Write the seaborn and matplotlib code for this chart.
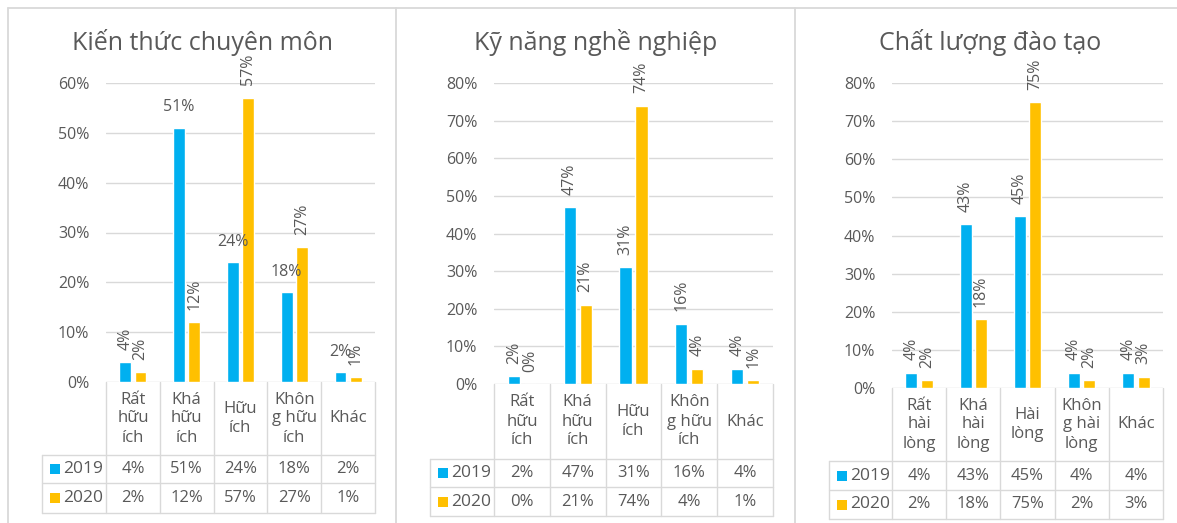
import numpy as np
import pandas as pd
import matplotlib
matplotlib.use("Agg")
import matplotlib.pyplot as plt
import seaborn as sns
from matplotlib.patches import Rectangle

# ---- data -------------------------------------------------------------
years = ["2019", "2020"]

titles = ["Kiến thức chuyên môn", "Kỹ năng nghề nghiệp", "Chất lượng đào tạo"]

cats_huu_ich = ["Rất\nhữu\ních", "Khá\nhữu\ních", "Hữu\ních", "Khôn\ng hữu\ních", "Khác"]
cats_hai_long = ["Rất\nhài\nlòng", "Khá\nhài\nlòng", "Hài\nlòng", "Khôn\ng hài\nlòng", "Khác"]

kien_thuc_2019 = [4, 51, 24, 18, 2]
kien_thuc_2020 = [2, 12, 57, 27, 1]
ky_nang_2019 = [2, 47, 31, 16, 4]
ky_nang_2020 = [0, 21, 74, 4, 1]
chat_luong_2019 = [4, 43, 45, 4, 4]
chat_luong_2020 = [2, 18, 75, 2, 3]

y_max = [60, 80, 80]

# ---- style ------------------------------------------------------------
sns.set_theme(style="white")
plt.rcParams["font.family"] = ["Open Sans", "DejaVu Sans"]

BLUE = "#00B0F0"
GOLD = "#FFC000"
TEXT = "#595959"
GRID = "#D9D9D9"
W, H = 1177, 523

fig = plt.figure(figsize=(W / 100, H / 100), dpi=100)

# overlay in pixel coordinates for frames, titles and the data tables
ov = fig.add_axes([0, 0, 1, 1], zorder=0)
ov.set_xlim(0, W)
ov.set_ylim(H, 0)
ov.axis("off")

# panel frames
ov.plot([8, W], [8, 8], color=GRID, lw=1.3)
for xb in (8, 396, 795):
    ov.plot([xb, xb], [8, H], color=GRID, lw=1.3)

panels = [
    dict(title=titles[0], cats=cats_huu_ich, v19=kien_thuc_2019, v20=kien_thuc_2020,
         ymax=y_max[0], plot=(106, 375, 83, 382), head=42, rows=(455, 483, 513), tx=202,
         rot19=[90, 0, 0, 0, 0], rot20=[90, 90, 90, 90, 90]),
    dict(title=titles[1], cats=cats_huu_ich, v19=ky_nang_2019, v20=ky_nang_2020,
         ymax=y_max[1], plot=(494, 773, 83, 384), head=430, rows=(459, 487, 516), tx=596,
         rot19=[90] * 5, rot20=[90] * 5),
    dict(title=titles[2], cats=cats_hai_long, v19=chat_luong_2019, v20=chat_luong_2020,
         ymax=y_max[2], plot=(892, 1163, 83, 388), head=829, rows=(461, 490, 519), tx=990,
         rot19=[90] * 5, rot20=[90] * 5),
]

for p in panels:
    left, right, top, bottom = p["plot"]
    ax = fig.add_axes([left / W, 1 - bottom / H, (right - left) / W, (bottom - top) / H], zorder=2)
    ax.patch.set_alpha(0)

    df = pd.DataFrame({
        "cat": p["cats"] * 2,
        "year": [years[0]] * 5 + [years[1]] * 5,
        "value": np.array(p["v19"] + p["v20"]) / 100.0,
    })
    sns.barplot(data=df, x="cat", y="value", hue="year", order=p["cats"],
                palette=[BLUE, GOLD], saturation=1, width=0.57, gap=0.23,
                errorbar=None, legend=False, ax=ax, zorder=3)

    ax.set_ylim(0, p["ymax"] / 100)
    ax.set_xlim(-0.5, 4.5)
    ticks = np.arange(0, p["ymax"] + 1, 10) / 100
    ax.set_yticks(ticks)
    ax.set_yticklabels([f"{int(round(t * 100))}%" for t in ticks], color=TEXT, fontsize=11.5)
    ax.tick_params(axis="y", length=0, pad=12)
    ax.set_xticks([])
    ax.set_xlabel("")
    ax.set_ylabel("")
    for s in ax.spines.values():
        s.set_visible(False)
    ax.grid(axis="y", color=GRID, lw=1.0, zorder=0)
    ax.set_axisbelow(True)

    # value labels above the bars
    for cont, vals, rots in zip(ax.containers, (p["v19"], p["v20"]), (p["rot19"], p["rot20"])):
        for bar, v, r in zip(cont, vals, rots):
            ax.annotate(f"{v}%", xy=(bar.get_x() + bar.get_width() / 2, bar.get_height()),
                        xytext=(0, 9), textcoords="offset points",
                        ha="center", va="bottom", rotation=r,
                        color=TEXT, fontsize=11.5, annotation_clip=False)

    # title
    ov.text(p["tx"], 43, p["title"], ha="center", va="center", color=TEXT, fontsize=18)

    # data table below the plot
    head = p["head"]
    r0, r1, r2 = p["rows"]
    cols = np.linspace(left, right, 6)
    for xc in cols:
        ov.plot([xc, xc], [bottom, r2], color=GRID, lw=1.0)
    for yr in (r0, r1, r2):
        ov.plot([head, right], [yr, yr], color=GRID, lw=1.0)
    ov.plot([head, head], [r0, r2], color=GRID, lw=1.0)

    centers = (cols[:-1] + cols[1:]) / 2
    for cx, c in zip(centers, p["cats"]):
        ov.text(cx, (bottom + r0) / 2, c, ha="center", va="center", color=TEXT,
                fontsize=12, linespacing=1.25)
    for (ya, yb), vals, col, yr in (((r0, r1), p["v19"], BLUE, years[0]),
                                   ((r1, r2), p["v20"], GOLD, years[1])):
        ym = (ya + yb) / 2
        for cx, v in zip(centers, vals):
            ov.text(cx, ym, f"{v}%", ha="center", va="center", color=TEXT, fontsize=12)
        ov.add_patch(Rectangle((head + 8, ym - 5), 10, 10, color=col, lw=0))
        ov.text(head + 21, ym, yr, ha="left", va="center", color=TEXT, fontsize=12.5)

fig.savefig("out.png", dpi=100, facecolor="white")
